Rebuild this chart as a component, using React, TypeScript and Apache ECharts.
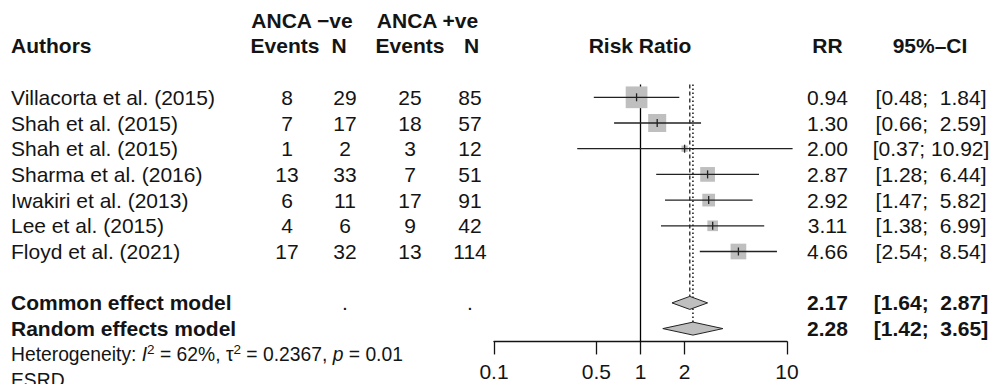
import React, { useEffect, useRef } from 'react';
import * as echarts from 'echarts';

// ---------- data ----------
const authors = [
  'Villacorta et al. (2015)',
  'Shah et al. (2015)',
  'Shah et al. (2015)',
  'Sharma et al. (2016)',
  'Iwakiri et al. (2013)',
  'Lee et al. (2015)',
  'Floyd et al. (2021)',
];
const negEvents = [8, 7, 1, 13, 6, 4, 17];
const negTotal = [29, 17, 2, 33, 11, 6, 32];
const posEvents = [25, 18, 3, 7, 17, 9, 13];
const posTotal = [85, 57, 12, 51, 91, 42, 114];
const riskRatio = [0.94, 1.3, 2.0, 2.87, 2.92, 3.11, 4.66];
const ciLower = [0.48, 0.66, 0.37, 1.28, 1.47, 1.38, 2.54];
const ciUpper = [1.84, 2.59, 10.92, 6.44, 5.82, 6.99, 8.54];
const studyWeight = [30.2, 20.8, 2.5, 13.9, 10.4, 7.3, 15.8];

const pooledLabels = ['Common effect model', 'Random effects model'];
const pooledRR = [2.17, 2.28];
const pooledLower = [1.64, 1.42];
const pooledUpper = [2.87, 3.65];

const tickValues = [0.1, 0.5, 1, 2, 10];
const hetI2 = '62%';
const hetTau2 = '0.2367';
const hetP = '0.01';
const subgroupLabel = 'ESRD';

// ---------- layout / style ----------
const FONT = '"Liberation Sans", Arial, Helvetica, sans-serif';
const INK = '#141414';
const LINE = '#222222';
const GRAY = '#bfbfbf';
const FS = 21;
const FS_HET = 19.3;
const COL = { author: 11, negEv: 287, negN: 345, posEv: 410, posN: 470, rr: 827.5, ci: 931 };
const SQUARE_SCALE = 3.95;
const DIAMOND_HALF = 6.5;

const lg = (v: number) => Math.log10(v);
const fmtCI = (lo: number, up: number) =>
  `[${lo.toFixed(2)};${up < 10 ? '\u00A0\u00A0' : '\u00A0'}${up.toFixed(2)}]`;

type Cell = { t: string; x: number; align: 'left' | 'center' | 'right'; bold?: boolean; het?: boolean };
type Row = { row: number; cells: Cell[] };

const nStudies = authors.length;
const pooledRow = (i: number) => nStudies + 1 + i;

const tableRows: Row[] = [];
tableRows.push({
  row: -3,
  cells: [
    { t: 'ANCA \u2212ve', x: 302, align: 'center', bold: true },
    { t: 'ANCA +ve', x: 427.5, align: 'center', bold: true },
  ],
});
tableRows.push({
  row: -2,
  cells: [
    { t: 'Authors', x: COL.author, align: 'left', bold: true },
    { t: 'Events', x: 285, align: 'center', bold: true },
    { t: 'N', x: 339, align: 'center', bold: true },
    { t: 'Events', x: 410, align: 'center', bold: true },
    { t: 'N', x: 471.5, align: 'center', bold: true },
    { t: 'Risk Ratio', x: 640, align: 'center', bold: true },
    { t: 'RR', x: COL.rr, align: 'center', bold: true },
    { t: '95%\u2013CI', x: 930, align: 'center', bold: true },
  ],
});
authors.forEach((a, i) => {
  tableRows.push({
    row: i,
    cells: [
      { t: a, x: COL.author, align: 'left' },
      { t: String(negEvents[i]), x: COL.negEv, align: 'center' },
      { t: String(negTotal[i]), x: COL.negN, align: 'center' },
      { t: String(posEvents[i]), x: COL.posEv, align: 'center' },
      { t: String(posTotal[i]), x: COL.posN, align: 'center' },
      { t: riskRatio[i].toFixed(2), x: COL.rr, align: 'center' },
      { t: fmtCI(ciLower[i], ciUpper[i]), x: COL.ci, align: 'center' },
    ],
  });
});
pooledLabels.forEach((lab, i) => {
  const cells: Cell[] = [
    { t: lab, x: COL.author, align: 'left', bold: true },
    { t: pooledRR[i].toFixed(2), x: COL.rr, align: 'center', bold: true },
    { t: fmtCI(pooledLower[i], pooledUpper[i]), x: COL.ci, align: 'center', bold: true },
  ];
  if (i === 0) {
    cells.push({ t: '.', x: COL.negN, align: 'center' });
    cells.push({ t: '.', x: COL.posN, align: 'center' });
  }
  tableRows.push({ row: pooledRow(i), cells });
});
tableRows.push({
  row: pooledRow(2),
  cells: [
    {
      t: `{n|Heterogeneity: }{i|I}{s|2}{n| = ${hetI2}, \u03C4}{s|2}{n| = ${hetTau2}, }{i|p}{n| = ${hetP}}`,
      x: COL.author,
      align: 'left',
      het: true,
    },
  ],
});
tableRows.push({ row: pooledRow(3), cells: [{ t: subgroupLabel, x: COL.author, align: 'left', het: true }] });

const hetRich = {
  n: { fontFamily: FONT, fontSize: FS_HET, fill: INK, lineHeight: 23, verticalAlign: 'middle' },
  i: { fontFamily: FONT, fontSize: FS_HET, fontStyle: 'italic', fill: INK, lineHeight: 23, verticalAlign: 'middle' },
  s: { fontFamily: FONT, fontSize: 13.5, fill: INK, lineHeight: 12, verticalAlign: 'top' },
};

const option: any = {
  animation: false,
  backgroundColor: '#ffffff',
  grid: { left: 494, width: 293, top: 84.45, height: 257, containLabel: false },
  xAxis: {
    type: 'value',
    min: -1,
    max: 1,
    position: 'bottom',
    splitLine: { show: false },
    axisLine: { show: true, onZero: false, lineStyle: { color: INK, width: 1.3 } },
    axisTick: {
      show: true,
      length: 13,
      customValues: tickValues.map((v) => Math.max(-1, Math.min(1, lg(v)))),
      lineStyle: { color: INK, width: 1.3 },
    },
    axisLabel: {
      show: true,
      customValues: tickValues.map((v) => Math.max(-1, Math.min(1, lg(v)))),
      formatter: (v: number) => String(parseFloat(Math.pow(10, v).toPrecision(3))),
      fontSize: FS,
      fontFamily: FONT,
      color: INK,
      margin: 20,
      showMinLabel: true,
      showMaxLabel: true,
    },
  },
  yAxis: {
    type: 'value',
    min: -0.5,
    max: 9.5,
    inverse: true,
    show: false,
  },
  series: [
    // reference lines: null effect, common (dashed), random (dotted)
    {
      type: 'custom',
      clip: false,
      data: [
        [0, -0.5, 9.5, 0],
        [lg(pooledRR[0]), -0.5, pooledRow(0), 1],
        [lg(pooledRR[1]), -0.5, pooledRow(1), 2],
      ],
      renderItem: (params: any, api: any) => {
        const kind = api.value(3);
        const x = api.coord([api.value(0), api.value(1)])[0];
        const y1 = api.coord([0, api.value(1)])[1];
        let y2 = api.coord([0, api.value(2)])[1];
        if (kind > 0) y2 -= DIAMOND_HALF;
        const style: any =
          kind === 0
            ? { stroke: '#000', lineWidth: 1.3 }
            : kind === 1
            ? { stroke: LINE, lineWidth: 1.3, lineDash: [4, 3] }
            : { stroke: LINE, lineWidth: 1.6, lineDash: [1.5, 2.5] };
        return { type: 'line', shape: { x1: x, y1, x2: x, y2 }, style };
      },
    },
    // studies
    {
      type: 'custom',
      clip: false,
      data: riskRatio.map((r, i) => [lg(r), lg(ciLower[i]), lg(ciUpper[i]), studyWeight[i], i]),
      renderItem: (params: any, api: any) => {
        const row = api.value(4);
        const [xe, y] = api.coord([api.value(0), row]);
        const xl = api.coord([api.value(1), row])[0];
        const xu = api.coord([api.value(2), row])[0];
        const side = SQUARE_SCALE * Math.sqrt(api.value(3));
        return {
          type: 'group',
          children: [
            { type: 'rect', shape: { x: xe - side / 2, y: y - side / 2, width: side, height: side }, style: { fill: GRAY } },
            { type: 'line', shape: { x1: xl, y1: y, x2: xu, y2: y }, style: { stroke: LINE, lineWidth: 1.3 } },
            { type: 'line', shape: { x1: xe, y1: y - 4, x2: xe, y2: y + 4 }, style: { stroke: LINE, lineWidth: 1.3 } },
          ],
        };
      },
    },
    // pooled diamonds
    {
      type: 'custom',
      clip: false,
      data: pooledRR.map((r, i) => [lg(r), lg(pooledLower[i]), lg(pooledUpper[i]), pooledRow(i)]),
      renderItem: (params: any, api: any) => {
        const row = api.value(3);
        const [xe, y] = api.coord([api.value(0), row]);
        const xl = api.coord([api.value(1), row])[0];
        const xu = api.coord([api.value(2), row])[0];
        return {
          type: 'polygon',
          shape: { points: [[xl, y], [xe, y - DIAMOND_HALF], [xu, y], [xe, y + DIAMOND_HALF]] },
          style: { fill: GRAY, stroke: LINE, lineWidth: 1 },
        };
      },
    },
    // table text
    {
      type: 'custom',
      clip: false,
      data: tableRows.map((r) => [0, r.row]),
      renderItem: (params: any, api: any) => {
        const r = tableRows[params.dataIndex];
        const y = api.coord([0, api.value(1)])[1];
        return {
          type: 'group',
          children: r.cells.map((c) => ({
            type: 'text',
            x: c.x,
            y,
            style: c.het
              ? {
                  text: c.t,
                  rich: hetRich,
                  fontFamily: FONT,
                  fontSize: FS_HET,
                  fill: INK,
                  align: c.align,
                  verticalAlign: 'middle',
                }
              : {
                  text: c.t,
                  fontFamily: FONT,
                  fontSize: FS,
                  fontWeight: c.bold ? 'bold' : 'normal',
                  fill: INK,
                  align: c.align,
                  verticalAlign: 'middle',
                },
          })),
        };
      },
    },
  ],
};

export default function App() {
  const ref = useRef<HTMLDivElement>(null);
  useEffect(() => {
    const chart = echarts.init(ref.current!, null, { renderer: 'svg' });
    chart.setOption(option);
    return () => chart.dispose();
  }, []);
  return (
    <div
      ref={ref}
      style={{ position: 'absolute', left: 0, top: 0, width: 992, height: 384, background: '#fff' }}
    />
  );
}
